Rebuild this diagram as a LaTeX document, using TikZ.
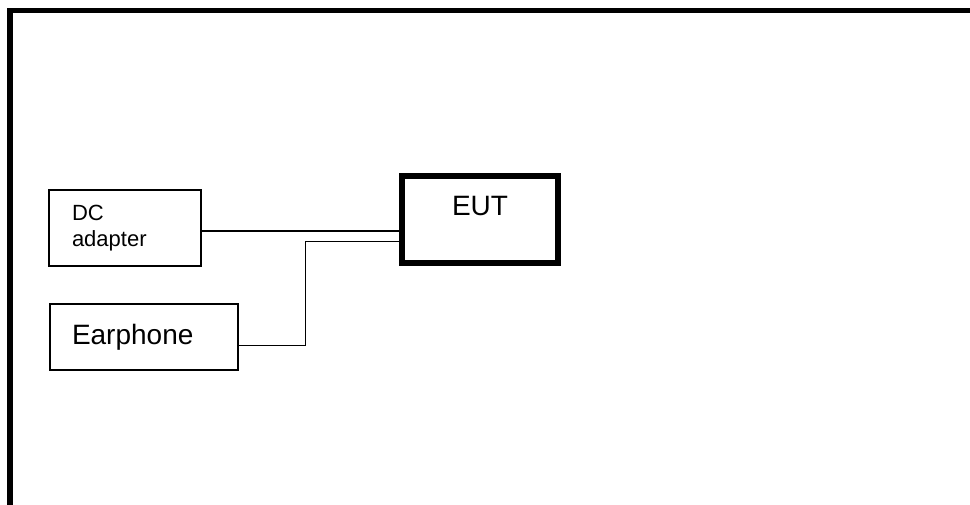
\documentclass[tikz,border=0pt]{standalone}
\usepackage{fontspec}
\setmainfont{Liberation Sans}
\begin{document}
\begin{tikzpicture}[x=1pt,y=-1pt,
  framestyle/.style={line width=5.5pt,line join=miter},
  devbox/.style={draw,line width=1.8pt,rectangle,outer sep=0pt},
  eutbox/.style={draw,line width=5.5pt,rectangle,outer sep=0pt},
  wire/.style={line width=1.8pt},
  thinwire/.style={line width=1.5pt}]
\useasboundingbox (0,0) rectangle (970,504);
\clip (0,0) rectangle (970,504);
% outer frame (top and left edges only visible)
\coordinate (fbl) at (10,530);
\coordinate (ftl) at (10,10.3);
\coordinate (ftr) at (990,10.3);
\draw[framestyle] (fbl) -- (ftl) -- (ftr);
% DC adapter
\node[devbox,minimum width=152pt,minimum height=76pt,text width=106pt,inner xsep=23pt,
      align=left,font=\fontsize{22}{26.4}\selectfont] (DC) at (125,228) {DC\\adapter};
% Earphone
\node[devbox,minimum width=188pt,minimum height=66pt,text width=144pt,inner xsep=22pt,
      align=left,font=\fontsize{28}{33.6}\selectfont] (EP) at (144,337) {Earphone};
% EUT
\node[eutbox,minimum width=156pt,minimum height=87pt,text height=10pt,text depth=19pt,
      font=\fontsize{28}{33.6}\selectfont] (EUT) at (480,219.5) {EUT};
% connectors
\draw[wire] ([yshift=-3pt]DC.east) -- ([yshift=-3pt]DC.east -| EUT.west);
\coordinate (bend) at (305.7,241.7);
\draw[thinwire] ([yshift=-8.7pt]EP.east) -| (bend) -- (bend -| EUT.west);
\end{tikzpicture}
\end{document}
